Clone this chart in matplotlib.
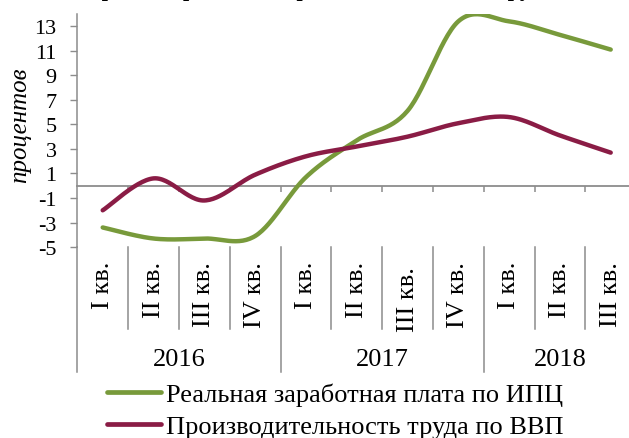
import numpy as np
import matplotlib
matplotlib.use("Agg")
import matplotlib.pyplot as plt
from matplotlib.lines import Line2D

plt.rcParams['font.family'] = ['Liberation Serif', 'DejaVu Serif']

# данные
kvartaly = ['I кв.', 'II кв.', 'III кв.', 'IV кв.',
            'I кв.', 'II кв.', 'III кв.', 'IV кв.',
            'I кв.', 'II кв.', 'III кв.']
gody = ['2016', '2017', '2018']
kv_v_gody = [4, 4, 3]
zarplata = [-3.4, -4.3, -4.3, -4.1, 0.7, 3.7, 6.1, 13.4, 13.4, 12.3, 11.1]
proizvod = [-2.0, 0.6, -1.2, 0.9, 2.4, 3.2, 4.0, 5.1, 5.6, 4.1, 2.7]
yticks = [13, 11, 9, 7, 5, 3, 1, -1, -3, -5]

zelenyi = '#789a3b'
bordo = '#8a1c45'
seryi = '#8c8c8c'


def sglad(x, y, n=30):
    # сглаженная линия как в Excel (кривые Безье через точки)
    x = np.asarray(x, float)
    y = np.asarray(y, float)
    px = np.r_[x[0], x, x[-1]]
    py = np.r_[y[0], y, y[-1]]
    t = np.linspace(0, 1, n)[:, None]
    xs, ys = [], []
    for i in range(1, len(px) - 2):
        p0 = np.array([px[i], py[i]])
        p3 = np.array([px[i + 1], py[i + 1]])
        c1 = p0 + (np.array([px[i + 1], py[i + 1]]) - np.array([px[i - 1], py[i - 1]])) / 6
        c2 = p3 - (np.array([px[i + 2], py[i + 2]]) - np.array([px[i], py[i]])) / 6
        b = ((1 - t) ** 3) * p0 + 3 * ((1 - t) ** 2) * t * c1 + 3 * (1 - t) * t ** 2 * c2 + t ** 3 * p3
        xs.append(b[:, 0])
        ys.append(b[:, 1])
    return np.concatenate(xs), np.concatenate(ys)


fig = plt.figure(figsize=(6.29, 4.39), dpi=100)
ax = fig.add_axes([77.3 / 629, 1 - 248.1 / 439, 558.8 / 629, 233.1 / 439])

x = np.arange(len(kvartaly)) + 0.5
gx, gy = sglad(x, zarplata)
rx, ry = sglad(x, proizvod)
ax.plot(gx, gy, color=zelenyi, lw=3.2, solid_capstyle='round', zorder=3)
ax.plot(rx, ry, color=bordo, lw=3.2, solid_capstyle='round', zorder=3)

ax.set_xlim(0, len(kvartaly))
ax.set_ylim(-5, 14)
ax.set_yticks(yticks)
ax.set_yticklabels([str(v) for v in yticks])
ax.tick_params(axis='y', direction='out', length=5, width=1, color=seryi,
               pad=10, labelsize=16)
ax.set_xticks([])
for s in ['top', 'right', 'bottom']:
    ax.spines[s].set_visible(False)
ax.spines['left'].set_color(seryi)
ax.spines['left'].set_linewidth(1.1)

# горизонтальная ось на нуле
ax.axhline(0, color=seryi, lw=1.3, zorder=2, clip_on=False)
ax.vlines(np.arange(1, len(kvartaly)), -0.5, 0, color=seryi, lw=1.1)

# подписи категорий внизу
tr = ax.get_xaxis_transform()
granicy = np.cumsum([0] + kv_v_gody)
for i in range(len(kvartaly) + 1):
    low = -0.535 if i in granicy else -0.352
    ax.plot([i, i], [0, low], color=seryi, lw=1.1, transform=tr, clip_on=False)
sdvig = {6: -0.022}
for i, lab in enumerate(kvartaly):
    ax.text(x[i], -0.06 + sdvig.get(i, 0), lab, transform=tr, rotation=90,
            ha='center', va='top', fontsize=19)
for j, g in enumerate(gody):
    ax.text((granicy[j] + granicy[j + 1]) / 2, -0.48, g, transform=tr,
            ha='center', va='center', fontsize=19)

fig.text(20 / 629, 1 - 125 / 439, 'процентов', rotation=90, ha='center',
         va='center', style='italic', fontsize=18)

# заголовок (обрезан сверху)
fig.text(0.46, 1 + 4 / 439, 'Темпы роста зарплаты и производительности труда',
         ha='center', va='baseline', fontsize=16, fontweight='bold')

ruchki = [Line2D([0], [0], color=zelenyi, lw=3.4, solid_capstyle='round'),
          Line2D([0], [0], color=bordo, lw=3.4, solid_capstyle='round')]
fig.legend(ruchki, ['Реальная заработная плата по ИПЦ', 'Производительность труда по ВВП'],
           loc='upper left', bbox_to_anchor=(107 / 629, 1 - 384 / 439), frameon=False,
           fontsize=19, handlelength=2.05, handletextpad=0.19, labelspacing=0.3,
           borderpad=0, borderaxespad=0)

fig.savefig('out.png', dpi=100)
